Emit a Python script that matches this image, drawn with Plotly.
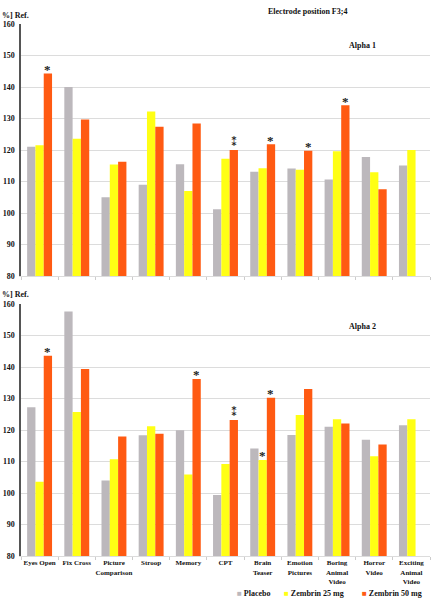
import plotly.graph_objects as go
from plotly.subplots import make_subplots

categories = ["Eyes Open", "Fix Cross", "Picture<br>Comparison", "Stroop", "Memory", "CPT",
              "Brain<br>Teaser", "Emotion<br>Pictures", "Boring<br>Animal<br>Video",
              "Horror<br>Video", "Exciting<br>Animal<br>Video"]
series_names = ["Placebo", "Zembrin 25 mg", "Zembrin 50 mg"]

a1_placebo = [121.0, 140.0, 105.0, 109.0, 115.5, 101.2, 113.1, 114.1, 110.6, 117.8, 115.1]
a1_z25 = [121.5, 123.6, 115.4, 132.2, 107.0, 117.2, 114.2, 113.7, 119.6, 112.9, 120.0]
a1_z50 = [144.3, 129.7, 116.3, 127.4, 128.4, 120.0, 121.8, 119.8, 134.2, 107.5, None]

a2_placebo = [127.2, 157.6, 104.0, 118.3, 119.9, 99.4, 114.1, 118.4, 121.0, 116.9, 121.5]
a2_z25 = [103.6, 125.7, 110.7, 121.2, 105.9, 109.2, 110.5, 124.8, 123.4, 111.7, 123.4]
a2_z50 = [143.6, 139.4, 117.9, 118.8, 136.2, 123.2, 130.2, 133.0, 122.1, 115.4, None]

# number of significance asterisks per bar
a1_stars = [[0] * 11, [0] * 11, [1, 0, 0, 0, 0, 2, 1, 1, 1, 0, 0]]
a2_stars = [[0] * 11, [0, 0, 0, 0, 0, 0, 1, 0, 0, 0, 0], [1, 0, 0, 0, 1, 2, 1, 0, 0, 0, 0]]
star_glyph = {1: "*", 2: "\u2051"}

y_ticks = [80, 90, 100, 110, 120, 130, 140, 150, 160]

colors = ["#BCB8BC", "#FFFF14", "#FF5A12"]
FONT = "Liberation Serif"

W, H = 433, 605
ML, MR, MT, MB = 21, 3, 24, 49
BARGAP = 0.33

fig = make_subplots(rows=2, cols=1, shared_xaxes=False, vertical_spacing=28 / (H - MT - MB))

panels = [([a1_placebo, a1_z25, a1_z50], a1_stars), ([a2_placebo, a2_z25, a2_z50], a2_stars)]
for r, (vals, stars) in enumerate(panels, start=1):
    for i, (name, v) in enumerate(zip(series_names, vals)):
        fig.add_trace(go.Bar(x=categories, y=v, name=name, marker_color=colors[i],
                             marker_line_width=0, showlegend=False), row=r, col=1)

plot_w = W - ML - MR
bar_px = plot_w / len(categories) * (1 - BARGAP) / 3
for r, (vals, stars) in enumerate(panels, start=1):
    xref = "x" if r == 1 else "x2"
    yref = "y" if r == 1 else "y2"
    for i in range(3):
        for j, c in enumerate(categories):
            n = stars[i][j]
            if n == 0:
                continue
            if n == 1:
                fnt = dict(family=FONT, size=13, color="#222", weight="bold")
                ys = 4
            else:
                fnt = dict(family="DejaVu Sans", size=12, color="#222", weight="bold")
                ys = 8
            fig.add_annotation(x=c, y=vals[i][j], xref=xref, yref=yref, text=star_glyph[n],
                               showarrow=False, xshift=(i - 1) * bar_px,
                               yshift=ys, yanchor="middle", font=fnt)

axis_font = dict(family=FONT, size=8, color="#111", weight="bold")
for r in (1, 2):
    fig.update_yaxes(range=[80, 160], tickvals=y_ticks, showgrid=True, gridcolor="#DCDCDC",
                     gridwidth=1, showline=True, linecolor="#555", linewidth=1.5,
                     ticks="", tickfont=axis_font, zeroline=False, automargin=False,
                     ticklabelstandoff=3, row=r, col=1)
    fig.update_xaxes(showgrid=False, showline=True, linecolor="#DCDCDC", linewidth=1,
                     ticks="outside", tickson="boundaries", ticklen=3, tickcolor="#CCCCCC",
                     tickfont=dict(family=FONT, size=7, color="#111", weight="bold"),
                     showticklabels=(r == 2), tickangle=0, automargin=False, row=r, col=1)

def px_x(p):
    return (p - ML) / plot_w

def px_y(p):
    return (H - MB - p) / (H - MT - MB)

title_font = dict(family=FONT, size=8, color="#111", weight="bold")
for txt, x, y, xa in [("Electrode position F3;4", 307, 11, "center"),
                      ("%] Ref.", 0, 16, "left"), ("Alpha 1", 362, 46, "center"),
                      ("%] Ref.", 0, 294, "left"), ("Alpha 2", 362, 326, "center")]:
    fig.add_annotation(xref="paper", yref="paper", x=px_x(x), y=px_y(y), text=txt,
                       showarrow=False, xanchor=xa, yanchor="middle", font=title_font)

# legend row
legend_x = [235, 282, 360]
for name, col, lx in zip(series_names, colors, legend_x):
    fig.add_annotation(xref="paper", yref="paper", x=px_x(lx), y=px_y(593),
                       text=f"<span style='color:{col}'>\u25A0</span> {name}",
                       showarrow=False, xanchor="left", yanchor="middle",
                       font=dict(family=FONT, size=8, color="#111", weight="bold"))

fig.update_layout(
    width=W, height=H, margin=dict(l=ML, r=MR, t=MT, b=MB, autoexpand=False),
    barmode="group", bargap=BARGAP, bargroupgap=0,
    plot_bgcolor="white", paper_bgcolor="white",
    font=dict(family=FONT, color="#111"),
    showlegend=False,
)

fig.write_html("out.html")
